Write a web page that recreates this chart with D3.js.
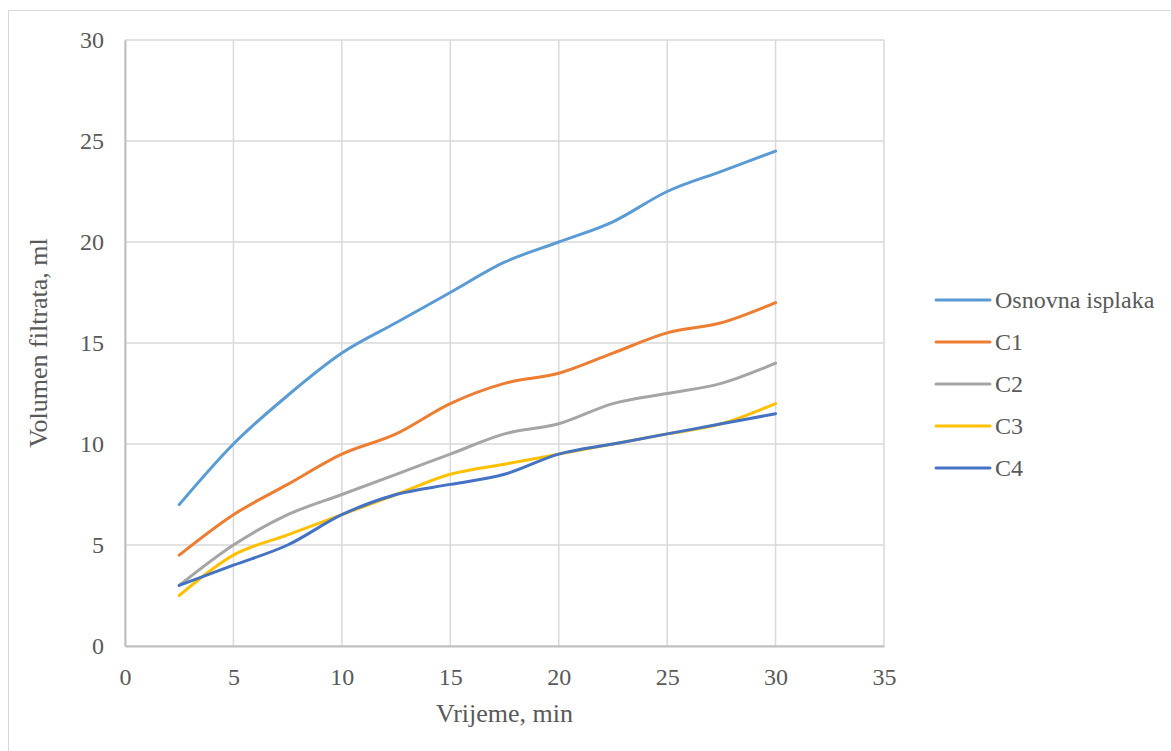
<!DOCTYPE html>
<html>
<head>
<meta charset="utf-8">
<script src="https://cdn.jsdelivr.net/npm/d3@7"></script>
<style>
  body { margin: 0; background: #fff; }
  svg text { font-family: "Liberation Serif", "Times New Roman", serif; }
</style>
</head>
<body>
<svg id="chart" width="1171" height="751"></svg>
<script>
// vrijeme, min
const times = [2.5, 5, 7.5, 10, 12.5, 15, 17.5, 20, 22.5, 25, 27.5, 30];
const seriesNames = ['Osnovna isplaka', 'C1', 'C2', 'C3', 'C4'];
const osnovna = [7, 10, 12.4, 14.5, 16, 17.5, 19, 20, 21, 22.5, 23.5, 24.5];
const c1 = [4.5, 6.5, 8, 9.5, 10.5, 12, 13, 13.5, 14.5, 15.5, 16, 17];
const c2 = [3, 5, 6.5, 7.5, 8.5, 9.5, 10.5, 11, 12, 12.5, 13, 14];
const c3 = [2.5, 4.5, 5.5, 6.5, 7.5, 8.5, 9, 9.5, 10, 10.5, 11, 12];
const c4 = [3, 4, 5, 6.5, 7.5, 8, 8.5, 9.5, 10, 10.5, 11, 11.5];
const xTicks = [0, 5, 10, 15, 20, 25, 30, 35];
const yTicks = [0, 5, 10, 15, 20, 25, 30];
const colors = ['#5B9BD5', '#ED7D31', '#A5A5A5', '#FFC000', '#4472C4'];

const svg = d3.select('#chart');

// outer frame
svg.append('rect')
    .attr('x', 8.5).attr('y', 10.5)
    .attr('width', 1200).attr('height', 800)
    .attr('fill', 'none')
    .attr('stroke', '#d9d9d9');

const x = d3.scaleLinear().domain([0, 35]).range([125, 884]);
const y = d3.scaleLinear().domain([0, 30]).range([646, 40]);

// grid
svg.append('g')
    .selectAll('line')
    .data(xTicks)
    .join('line')
    .attr('x1', d => x(d)).attr('x2', d => x(d))
    .attr('y1', y(0)).attr('y2', y(30))
    .attr('stroke', '#d9d9d9').attr('stroke-width', 1.5);
svg.append('g')
    .selectAll('line')
    .data(yTicks)
    .join('line')
    .attr('x1', x(0)).attr('x2', x(35))
    .attr('y1', d => y(d)).attr('y2', d => y(d))
    .attr('stroke', '#d9d9d9').attr('stroke-width', 1.5);

// axes
const xAxis = svg.append('g')
    .attr('transform', `translate(0,${y(0)})`)
    .call(d3.axisBottom(x).tickValues(xTicks).tickSize(0).tickPadding(22));
const yAxis = svg.append('g')
    .attr('transform', `translate(${x(0)},0)`)
    .call(d3.axisLeft(y).tickValues(yTicks).tickSize(0).tickPadding(21));
[xAxis, yAxis].forEach(a => {
    a.attr('font-family', null).attr('font-size', null);
    a.select('.domain').attr('stroke', '#bfbfbf').attr('stroke-width', 2);
    a.selectAll('text')
        .style('font-family', '"Liberation Serif", serif')
        .attr('font-size', 24)
        .attr('fill', '#595959');
});

// lines
const data = [osnovna, c1, c2, c3, c4];
const line = d3.line()
    .x((d, i) => x(times[i]))
    .y(d => y(d))
    .curve(d3.curveCatmullRom.alpha(0));

svg.append('g')
    .selectAll('path')
    .data(data)
    .join('path')
    .attr('d', d => line(d))
    .attr('fill', 'none')
    .attr('stroke', (d, i) => colors[i])
    .attr('stroke-width', 3)
    .attr('stroke-linecap', 'round');

// axis titles
svg.append('text')
    .attr('x', (x(0) + x(35)) / 2).attr('y', 722)
    .attr('text-anchor', 'middle')
    .attr('font-size', 26)
    .attr('fill', '#595959')
    .text('Vrijeme, min');
svg.append('text')
    .attr('transform', `translate(47,${y(15)}) rotate(-90)`)
    .attr('text-anchor', 'middle')
    .attr('font-size', 26)
    .attr('fill', '#595959')
    .text('Volumen filtrata, ml');

// legend
const legend = svg.append('g')
    .selectAll('g')
    .data(seriesNames)
    .join('g')
    .attr('transform', (d, i) => `translate(936,${300 + i * 42})`);
legend.append('line')
    .attr('x1', 0).attr('x2', 54)
    .attr('stroke', (d, i) => colors[i])
    .attr('stroke-width', 3)
    .attr('stroke-linecap', 'round');
legend.append('text')
    .attr('x', 59).attr('y', 8)
    .attr('font-size', 24)
    .attr('fill', '#595959')
    .text(d => d);
</script>
</body>
</html>
